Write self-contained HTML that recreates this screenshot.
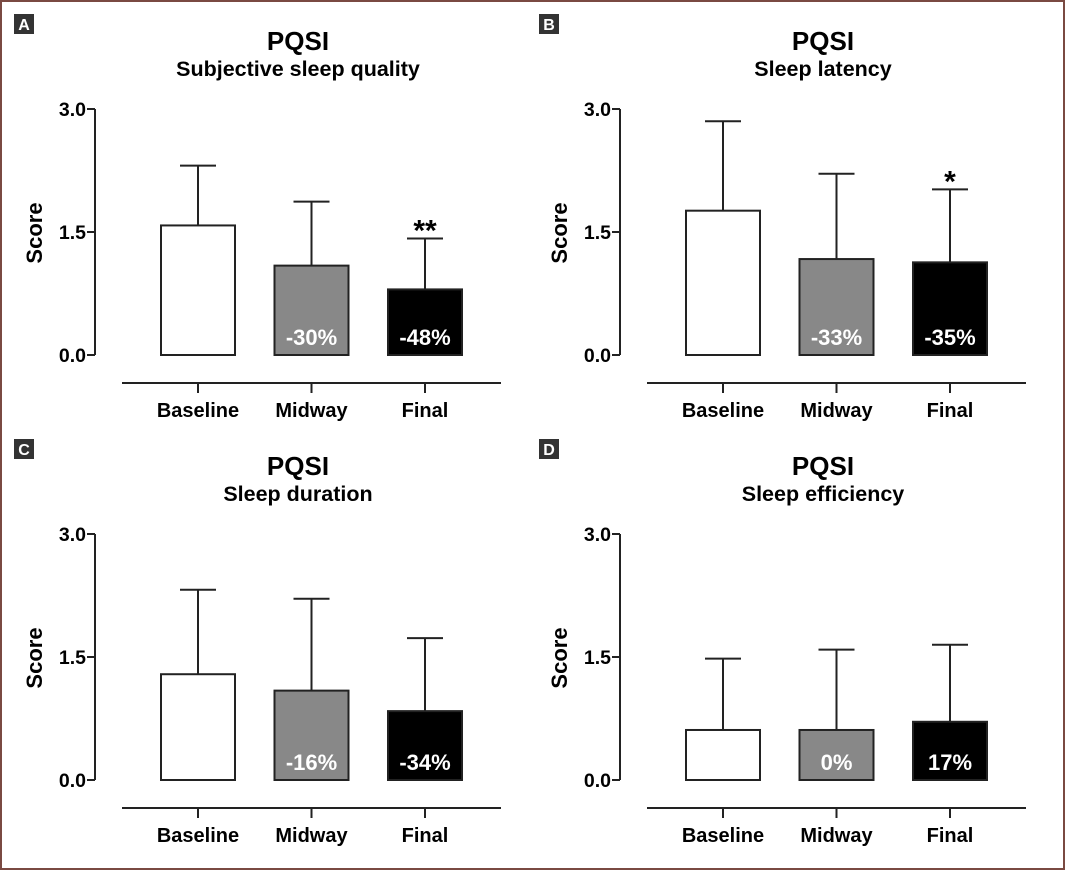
<!DOCTYPE html>
<html><head><meta charset="utf-8">
<style>
html,body{margin:0;padding:0;background:#fff;}
svg{display:block;font-family:"Liberation Sans",Arial,sans-serif;font-weight:bold;}
</style></head>
<body>
<svg id="fig" width="1065" height="870" viewBox="0 0 1065 870">
<rect x="1" y="1" width="1063" height="868" fill="#fff" stroke="#7a4a42" stroke-width="2"/>
</svg>
<script>
const categories = ["Baseline","Midway","Final"];
const panelLetters = ["A","B","C","D"];
const panelTitles = ["Subjective sleep quality","Sleep latency","Sleep duration","Sleep efficiency"];
const meansA = [1.58,1.09,0.80];
const errA = [2.31,1.87,1.42];
const meansB = [1.76,1.17,1.13];
const errB = [2.85,2.21,2.02];
const meansC = [1.29,1.09,0.84];
const errC = [2.32,2.21,1.73];
const meansD = [0.61,0.61,0.71];
const errD = [1.48,1.59,1.65];
const pctLabels = [["","-30%","-48%"],["","-33%","-35%"],["","-16%","-34%"],["","0%","17%"]];
const sigLabels = [["","","**"],["","","*"],["","",""],["","",""]];
const yTicks = [0,1.5,3.0];
const allMeans=[meansA,meansB,meansC,meansD];
const allErr=[errA,errB,errC,errD];
const fills=["#fff","#888","#000"];
const NS="http://www.w3.org/2000/svg";
const svg=document.getElementById("fig");
function mk(tag,attrs,parent,text){const e=document.createElementNS(NS,tag);for(const k in attrs)e.setAttribute(k,attrs[k]);if(text!==undefined)e.textContent=text;(parent||svg).appendChild(e);return e;}
for(let p=0;p<4;p++){
  const ox=(p%2)*525, oy=Math.floor(p/2)*425;
  const g=mk("g",{});
  
  
  const yS=v=>oy+355-v*82;
  const xC=i=>ox+198+i*113.5;
  const lb=mk("rect",{x:ox+14,y:oy+14,width:20,height:20,fill:"#333"},g);
  
  
  const lt=mk("text",{x:ox+24,y:oy+30,"text-anchor":"middle","font-size":16,fill:"#fff"},g,panelLetters[p]);
  
  
  const t1=mk("text",{x:ox+298,y:oy+50,"text-anchor":"middle","font-size":26},g,"PQSI");
  
  
  const t2=mk("text",{x:ox+298,y:oy+76,"text-anchor":"middle","font-size":21.5},g,panelTitles[p]);
  
  
  const ya=mk("line",{x1:ox+95,y1:yS(3),x2:ox+95,y2:yS(0),stroke:"#222","stroke-width":2},g);
  
  
  yTicks.forEach(v=>{
    const tk=mk("line",{x1:ox+87,y1:yS(v),x2:ox+95,y2:yS(v),stroke:"#222","stroke-width":2},g);
    
    
    const tl=mk("text",{x:ox+86,y:yS(v)+7,"text-anchor":"end","font-size":19.5},g,v.toFixed(1));
    
    
  });
  const yt=mk("text",{x:ox+42,y:oy+233,"text-anchor":"middle","font-size":22,transform:`rotate(-90 ${ox+42} ${oy+233})`},g,"Score");
  
  
  const xa=mk("line",{x1:ox+122,y1:oy+383,x2:ox+501,y2:oy+383,stroke:"#222","stroke-width":2},g);
  
  
  categories.forEach((c,i)=>{
    const cx=xC(i), m=allMeans[p][i], e=allErr[p][i];
    const el=mk("line",{x1:cx,y1:yS(e),x2:cx,y2:yS(m),stroke:"#222","stroke-width":2},g);
    
    
    const ec=mk("line",{x1:cx-18,y1:yS(e),x2:cx+18,y2:yS(e),stroke:"#222","stroke-width":2},g);
    
    
    const b=mk("rect",{x:cx-37,y:yS(m),width:74,height:yS(0)-yS(m),fill:fills[i],stroke:"#222","stroke-width":2},g);
    
    
    if(pctLabels[p][i]){
      const pl=mk("text",{x:cx,y:oy+345,"text-anchor":"middle","font-size":22,fill:"#fff"},g,pctLabels[p][i]);
      
      
    }
    if(sigLabels[p][i]){
      const sl=mk("text",{x:cx,y:yS(e)+2,"text-anchor":"middle","font-size":30},g,sigLabels[p][i]);
      
      
    }
    const xt=mk("line",{x1:cx,y1:oy+383,x2:cx,y2:oy+393,stroke:"#222","stroke-width":2},g);
    
    
    const xl=mk("text",{x:cx,y:oy+417,"text-anchor":"middle","font-size":20},g,c);
    
    
  });
}
</script>
</body></html>
